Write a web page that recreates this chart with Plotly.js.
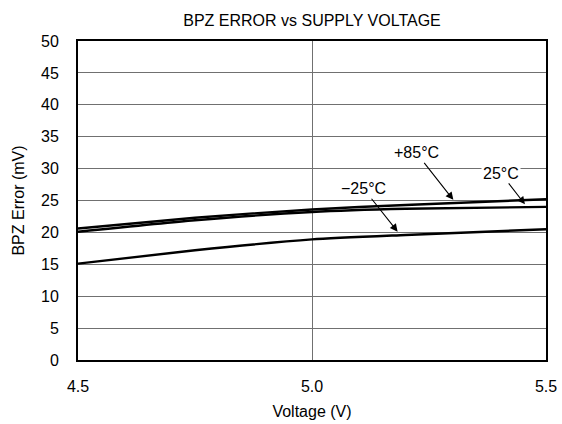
<!DOCTYPE html>
<html>
<head>
<meta charset="utf-8">
<script src="https://cdn.plot.ly/plotly-3.0.1.min.js"></script>
<style>
html,body{margin:0;padding:0;background:#fff;}
#chart{width:562px;height:424px;}
</style>
</head>
<body>
<div id="chart"></div>
<script>
// Data
const voltage85 = [4.5, 4.75, 5.0, 5.2, 5.5];
const error85 = [20.6, 22.3, 23.6, 24.3, 25.2];
const voltage25 = [4.5, 4.75, 5.0, 5.2, 5.5];
const error25 = [20.1, 21.9, 23.2, 23.7, 24.0];
const voltageM25 = [4.5, 4.75, 5.0, 5.2, 5.5];
const errorM25 = [15.1, 17.2, 18.9, 19.6, 20.5];

const labelTexts = ["+85°C", "25°C", "\u221225°C"];
const labelX = [5.302, 5.455, 5.183];
const labelY = [25.1, 24.4, 20.1];

const xTickVals = [4.5, 5.0, 5.5];
const xTickText = ["4.5", "5.0", "5.5"];
const yTickVals = [0, 5, 10, 15, 20, 25, 30, 35, 40, 45, 50];

const FONT = "Liberation Sans, Arial, sans-serif";
const lineStyle = {color: "#000", width: 2.4, shape: "spline", smoothing: 0.6};

const traces = [
  {x: voltage85, y: error85, mode: "lines", line: lineStyle, name: "+85°C", hoverinfo: "skip"},
  {x: voltage25, y: error25, mode: "lines", line: lineStyle, name: "25°C", hoverinfo: "skip"},
  {x: voltageM25, y: errorM25, mode: "lines", line: lineStyle, name: "-25°C", hoverinfo: "skip"}
];

const offsets = [[-37, -47], [-24, -31], [-34, -43]];
const annotations = labelTexts.map((t, i) => ({
  x: labelX[i], y: labelY[i], xref: "x", yref: "y",
  text: t, showarrow: true, arrowhead: 2, arrowsize: 1.4, arrowwidth: 1.1,
  arrowcolor: "#000", ax: offsets[i][0], ay: offsets[i][1],
  bgcolor: i === 1 ? "#fff" : "rgba(0,0,0,0)",
  font: {family: FONT, size: 16, color: "#000"}
}));

const layout = {
  width: 562, height: 424,
  margin: {l: 78, r: 16, t: 41, b: 64, pad: 0},
  paper_bgcolor: "#fff", plot_bgcolor: "#fff",
  showlegend: false,
  font: {family: FONT, size: 16, color: "#000"},
  title: {text: "BPZ ERROR vs SUPPLY VOLTAGE", font: {family: FONT, size: 16, color: "#000"},
          x: 0.5, xref: "paper", y: 0.952, yanchor: "middle"},
  xaxis: {
    range: [4.5, 5.5], tickvals: xTickVals, ticktext: xTickText,
    tickfont: {family: FONT, size: 16, color: "#000"},
    showgrid: true, gridcolor: "#707070", gridwidth: 1,
    showline: true, linecolor: "#000", linewidth: 2, mirror: true,
    ticks: "", ticklabelstandoff: 11, zeroline: false,
    title: {text: "Voltage (V)", font: {family: FONT, size: 16, color: "#000"}, standoff: 12}
  },
  yaxis: {
    range: [0, 50], tickvals: yTickVals,
    tickfont: {family: FONT, size: 16, color: "#000"},
    showgrid: true, gridcolor: "#707070", gridwidth: 1,
    showline: true, linecolor: "#000", linewidth: 2, mirror: true,
    ticks: "", ticklabelstandoff: 14, zeroline: false,
    title: {text: "BPZ Error (mV)", font: {family: FONT, size: 16, color: "#000"}, standoff: 12}
  },
  annotations: annotations
};

Plotly.newPlot("chart", traces, layout, {staticPlot: true, displayModeBar: false});
</script>
</body>
</html>
